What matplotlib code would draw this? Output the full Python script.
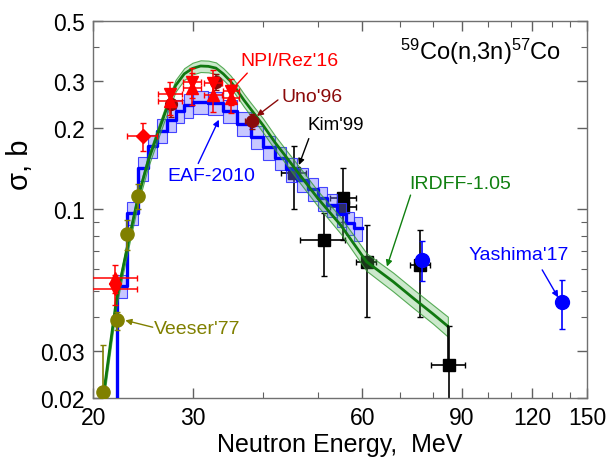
import numpy as np
import matplotlib
matplotlib.use("Agg")
import matplotlib.pyplot as plt
from matplotlib.ticker import FixedLocator, FixedFormatter, NullFormatter

plt.rcParams['font.family'] = ['Liberation Sans', 'DejaVu Sans']
plt.rcParams['mathtext.fontset'] = 'custom'
plt.rcParams['mathtext.rm'] = 'Liberation Sans'
plt.rcParams['mathtext.it'] = 'Liberation Sans:italic'

# EAF-2010 group cross sections (b)
eaf_edges = [22, 23, 24, 25, 26, 27, 28, 29, 30, 32, 34, 36, 38, 40, 42, 44, 46, 48, 50, 52, 54, 56, 58, 60]
eaf_xs = [0.052, 0.097, 0.142, 0.172, 0.196, 0.215, 0.232, 0.243, 0.250, 0.248, 0.232, 0.208,
          0.186, 0.170, 0.155, 0.141, 0.129, 0.119, 0.110, 0.104, 0.096, 0.089, 0.085]
eaf_unc = 0.10

# IRDFF-1.05 evaluation
irdff_e = [20.7, 20.85, 21.4, 22.0, 23.0, 24.0, 25.0, 26.0, 27.0, 28.0, 29.0, 30.0, 31.0, 32.0, 33.0,
           34.0, 35.0, 36.0, 37.0, 38.0, 40.0, 42.0, 44.0, 46.0, 50.0, 55.0, 61.0, 68.0, 74.0, 80.0, 85.0]
irdff_xs = [0.018, 0.0204, 0.0305, 0.0466, 0.073, 0.110, 0.150, 0.190, 0.237, 0.288, 0.318, 0.333, 0.340,
            0.339, 0.334, 0.318, 0.299, 0.276, 0.254, 0.236, 0.205, 0.177, 0.156, 0.138, 0.110, 0.087,
            0.064, 0.054, 0.0467, 0.041, 0.0369]
irdff_unc = [0.05, 0.05, 0.05, 0.05, 0.05, 0.05, 0.05, 0.05, 0.05, 0.05, 0.05, 0.05, 0.05, 0.05, 0.05,
             0.05, 0.05, 0.055, 0.055, 0.055, 0.06, 0.06, 0.06, 0.065, 0.065, 0.07, 0.075, 0.08, 0.08, 0.08, 0.085]

# NPI/Rez'16
npi_dn_e = [21.9, 27.4, 29.9, 32.6, 35.1]
npi_dn_xs = [0.0508, 0.268, 0.296, 0.293, 0.274]
npi_up_e = [21.9, 27.4, 29.9, 32.6, 35.1]
npi_up_xs = [0.0555, 0.252, 0.282, 0.265, 0.258]
npi_dxs = [0.0065, 0.028, 0.038, 0.036, 0.03]
npi_de = [2.0, 1.3, 1.1, 1.2, 1.2]
npi_d_e = [24.5]
npi_d_xs = [0.187]
npi_d_dxs = [0.022]
npi_d_de = [1.5]

# Uno'96
uno_e = [27.5, 33.0, 38.2]
uno_xs = [0.245, 0.297, 0.212]
uno_dxs = [0.025, 0.02, 0.013]
uno_de = [0.0, 0.0, 1.0]

# Kim'99
kim_e = [45.3, 51.2, 55.5, 55.5, 61.0, 75.9, 85.3]
kim_xs = [0.136, 0.0768, 0.110, 0.102, 0.0638, 0.0621, 0.0266]
kim_dxs = [0.036, 0.020, 0.033, 0.012, 0.024, 0.022, 0.0104]
kim_de = [2.3, 4.7, 2.9, 2.9, 2.5, 3.2, 6.0]

# Veeser'77
veeser_e = [20.85, 22.0, 23.0, 24.0]
veeser_xs = [0.021, 0.0388, 0.081, 0.112]
veeser_dxs = [0.0105, 0.003, 0.010, 0.012]

# Yashima'17
yash_e = [76.5, 135.2]
yash_xs = [0.0651, 0.0454]
yash_dxs = [0.011, 0.0095]

x_major = [20, 30, 60, 90, 120, 150]
x_minor = [40, 50, 70, 80, 100, 110, 130, 140]
y_major = [0.02, 0.03, 0.1, 0.2, 0.3, 0.5]
y_major_labels = ['0.02', '0.03', '0.1', '0.2', '0.3', '0.5']
y_minor = [0.04, 0.05, 0.06, 0.07, 0.08, 0.09, 0.4]

fig = plt.figure(figsize=(6.09, 4.64), dpi=100)
ax = fig.add_axes([0.153, 0.140, 0.811, 0.813])
ax.set_xscale('log')
ax.set_yscale('log')

# Kim squares below the bands
ax.errorbar(kim_e, kim_xs, yerr=kim_dxs, xerr=kim_de, fmt='s', color='black', ms=9,
            elinewidth=1.2, capsize=2.5, zorder=1)

# EAF-2010 band and line
edges = np.array(eaf_edges, dtype=float)
vals = np.array(eaf_xs)
ax.bar(edges[:-1], vals * (1 + eaf_unc) - vals * (1 - eaf_unc), width=np.diff(edges),
       bottom=vals * (1 - eaf_unc), align='edge', facecolor=(0.45, 0.45, 1.0, 0.40),
       edgecolor=(0.2, 0.2, 1.0, 0.9), linewidth=0.8, zorder=2)
ax.plot(np.r_[edges[0], edges], np.r_[0.01, vals, vals[-1]], drawstyle='steps-post',
        color='#0000ff', lw=2.4, zorder=3)

# IRDFF band and line
ie = np.array(irdff_e)
ix = np.array(irdff_xs)
iu = np.array(irdff_unc)
ax.fill_between(ie, ix * (1 - iu), ix * (1 + iu), facecolor=(0.35, 0.72, 0.35, 0.30),
                edgecolor=(0.2, 0.6, 0.2, 0.8), linewidth=0.8, zorder=4)
ax.plot(ie, ix, color='#107810', lw=2.0, zorder=5)
ax.plot([ie[-1], ie[-1]], [kim_xs[-1], ix[-1]], color='black', lw=1.2, zorder=5)

# experimental data
ax.errorbar(veeser_e, veeser_xs, yerr=veeser_dxs, fmt='o', color='#808000', ms=9.5,
            elinewidth=1.2, capsize=2, zorder=6)
ax.errorbar(uno_e, uno_xs, yerr=uno_dxs, xerr=uno_de, fmt='o', color='#8b0a0a', ms=8.5,
            elinewidth=1.2, capsize=2, zorder=6)
ax.errorbar(npi_up_e, npi_up_xs, yerr=npi_dxs, xerr=npi_de, fmt='^', color='#ff0000', ms=9,
            elinewidth=1.1, capsize=2, zorder=7)
ax.errorbar(npi_dn_e, npi_dn_xs, yerr=npi_dxs, xerr=npi_de, fmt='v', color='#ff0000', ms=9,
            elinewidth=1.1, capsize=2, zorder=7)
ax.errorbar(npi_d_e, npi_d_xs, yerr=npi_d_dxs, xerr=npi_d_de, fmt='D', color='#ff0000', ms=7.5,
            elinewidth=1.1, capsize=2, zorder=7)
ax.errorbar(yash_e, yash_xs, yerr=yash_dxs, fmt='o', color='#0000ff', ms=10,
            elinewidth=1.2, capsize=2, zorder=7)

# labels with arrows
def label(txt, xy, tail, tip, color, ha='left', size=14):
    ax.text(xy[0], xy[1], txt, color=color, fontsize=size, ha=ha, va='center', zorder=9)
    ax.annotate('', xy=tip, xytext=tail,
                arrowprops=dict(arrowstyle='-|>', color=color, lw=1.0, shrinkA=0, shrinkB=0,
                                mutation_scale=9), zorder=9)

label("NPI/Rez'16", (36.5, 0.357), (37.5, 0.320), (35.0, 0.274), '#ff0000')
label("Uno'96", (43.1, 0.263), (42.5, 0.2545), (39.0, 0.222), '#8b0a0a')
label("Kim'99", (47.9, 0.207), (48.2, 0.183), (46.3, 0.146), 'black', size=13.5)
label("EAF-2010", (32.4, 0.134), (30.7, 0.148), (33.4, 0.215), '#0000ff', ha='center')
label("IRDFF-1.05", (72.6, 0.125), (73.0, 0.113), (66.3, 0.0614), '#108010')
label("Yashima'17", (113.6, 0.068), (124.9, 0.0597), (133.3, 0.0472), '#0000ff', ha='center')
label("Veeser'77", (25.6, 0.0361), (25.5, 0.0366), (22.8, 0.0388), '#808000')

ax.text(0.621, 0.920, r'$^{59}$Co(n,3n)$^{57}$Co', transform=ax.transAxes, fontsize=17,
        ha='left', va='center')

ax.set_xlim(20, 150)
ax.set_ylim(0.02, 0.5)
ax.xaxis.set_major_locator(FixedLocator(x_major))
ax.xaxis.set_major_formatter(FixedFormatter([str(v) for v in x_major]))
ax.xaxis.set_minor_locator(FixedLocator(x_minor))
ax.xaxis.set_minor_formatter(NullFormatter())
ax.yaxis.set_major_locator(FixedLocator(y_major))
ax.yaxis.set_major_formatter(FixedFormatter(y_major_labels))
ax.yaxis.set_minor_locator(FixedLocator(y_minor))
ax.yaxis.set_minor_formatter(NullFormatter())

ax.tick_params(which='both', direction='in', top=True, right=True, color='#606060')
ax.tick_params(which='major', length=7, width=1, labelsize=16.5, pad=6)
ax.tick_params(which='minor', length=4, width=0.8)
for s in ax.spines.values():
    s.set_color('#707070')
    s.set_linewidth(1.0)

ax.set_xlabel('Neutron Energy,  MeV', fontsize=18, labelpad=2)
ax.set_ylabel('σ, b', fontsize=21)
ax.yaxis.set_label_coords(-0.12, 0.62)

fig.savefig('out.png', dpi=100)
